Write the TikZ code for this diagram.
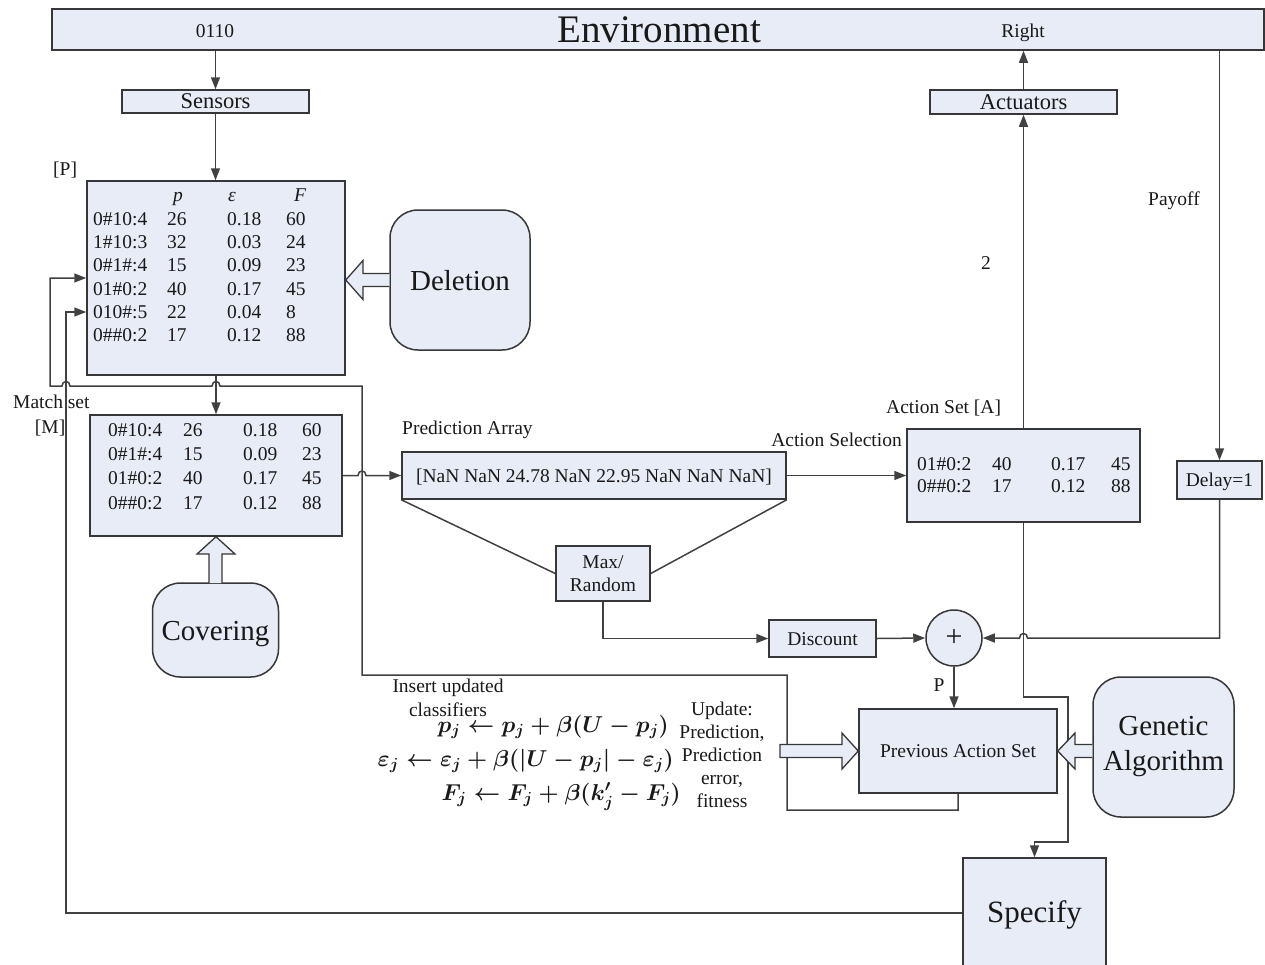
\RequirePackage{fix-cm}
\documentclass[tikz,border=0pt]{standalone}
\usepackage{fontspec}
\setmainfont{Liberation Serif}
\usetikzlibrary{arrows.meta,calc}

\definecolor{boxfill}{RGB}{231,236,247}
\definecolor{edge}{RGB}{55,55,55}
\definecolor{wirecol}{RGB}{65,65,65}
\definecolor{ink}{RGB}{25,25,25}

\tikzset{
  every node/.style={text=ink, inner sep=0pt},
  panel/.style={draw=edge, fill=boxfill, line width=1.5pt},
  softpanel/.style={panel, rounded corners=28pt},
  lbl/.style={font=\fontsize{19.5}{23.4}\selectfont},
  bigtxt/.style={font=\fontsize{29}{35}\selectfont},
  oneline/.style={text height=13pt, text depth=0pt},
  midline/.style={text height=15pt, text depth=1pt},
  bigline/.style={text height=20pt, text depth=0pt},
  eqn/.style={font=\fontsize{23}{28}\selectfont\boldmath, anchor=base east},
  wire/.style={draw=wirecol, line width=1.5pt},
  feed/.style={wire, -{Triangle[length=12pt,width=9pt]}},
  blockarrow/.style={draw=edge, fill=boxfill, line width=1.3pt, line join=miter},
}

\begin{document}
\begin{tikzpicture}[x=1pt, y=-1pt]
\useasboundingbox (0,0) rectangle (1265,964);

% ---------------- boxes ----------------
\node[panel, minimum width=1212pt, minimum height=41pt] (env) at (658,29.5) {};
\node[font=\fontsize{39}{40}\selectfont, anchor=base] (envtitle) at (659,42) {Environment};
\node[lbl, anchor=base] (obs) at (215,37) {0110};
\node[lbl, anchor=base] (act) at (1023,37) {Right};

\node[panel, minimum width=187pt, minimum height=23pt, midline,
      font=\fontsize{22.5}{24}\selectfont] (sens) at (215.5,101.5) {Sensors};
\node[panel, minimum width=187pt, minimum height=24pt, midline,
      font=\fontsize{22.5}{24}\selectfont] (actu) at (1023.5,102) {Actuators};

\node[panel, minimum width=258pt, minimum height=194pt] (pop) at (216,278) {};
\node[softpanel, bigtxt, bigline, minimum width=140pt, minimum height=140pt] (del) at (460,280) {Deletion};

\node[panel, minimum width=252pt, minimum height=121pt] (mset) at (216,475.5) {};
\node[softpanel, bigtxt, bigline, minimum width=126pt, minimum height=94pt] (cov) at (215.5,630) {Covering};

\node[panel, lbl, oneline, minimum width=384pt, minimum height=47pt] (pred) at (594,475.5)
  {[NaN NaN 24.78 NaN 22.95 NaN NaN NaN]};
\node[panel, lbl, align=center, minimum width=94pt, minimum height=55pt] (maxr) at (603,573.5)
  {Max/\\Random};
\node[panel, lbl, oneline, minimum width=107pt, minimum height=37pt] (disc) at (822.5,638.5) {Discount};
\node[panel, circle, minimum size=56pt, font=\fontsize{30}{30}\selectfont] (plus) at (954,638) {+};

\node[panel, minimum width=233pt, minimum height=93pt] (aset) at (1023.5,475.5) {};
\node[panel, lbl, oneline, minimum width=85pt, minimum height=38pt] (delay) at (1219.5,480) {Delay=1};

\node[panel, lbl, oneline, minimum width=198pt, minimum height=84pt] (prev) at (958,751) {Previous Action Set};
\node[softpanel, bigtxt, align=center, minimum width=141pt, minimum height=140pt] (ga) at (1163.5,747)
  {Genetic\\Algorithm};
\node[panel, font=\fontsize{31}{32}\selectfont, text height=20pt, text depth=2pt,
      minimum width=143pt, minimum height=110pt] (spec) at (1034.5,913) {Specify};

% ---------------- classifier tables ----------------
\node[font=\fontsize{19.5}{23.35}\selectfont, anchor=base west] (poptab) at (93,201.7) {%
  \begin{tabular}[t]{@{}p{74pt}@{}p{60pt}@{}p{59pt}@{}l@{}}
            & \hspace{6pt}\textit{p} & \hspace{1pt}\textit{ε} & \hspace{8pt}\textit{F}\\
   0\#10:4  & 26 & 0.18 & 60\\
   1\#10:3  & 32 & 0.03 & 24\\
   0\#1\#:4 & 15 & 0.09 & 23\\
   01\#0:2  & 40 & 0.17 & 45\\
   010\#:5  & 22 & 0.04 & 8\\
   0\#\#0:2 & 17 & 0.12 & 88
  \end{tabular}};

\node[font=\fontsize{19.5}{24.1}\selectfont, anchor=base west] (mtab) at (108,436.7) {%
  \begin{tabular}[t]{@{}p{75pt}@{}p{60pt}@{}p{59pt}@{}l@{}}
   0\#10:4  & 26 & 0.18 & 60\\
   0\#1\#:4 & 15 & 0.09 & 23\\
   01\#0:2  & 40 & 0.17 & 45\\
   0\#\#0:2 & 17 & 0.12 & 88
  \end{tabular}};

\node[font=\fontsize{19.5}{22.5}\selectfont, anchor=base west] (atab) at (917,470) {%
  \begin{tabular}[t]{@{}p{75pt}@{}p{59pt}@{}p{60pt}@{}l@{}}
   01\#0:2  & 40 & 0.17 & 45\\
   0\#\#0:2 & 17 & 0.12 & 88
  \end{tabular}};

% ---------------- labels ----------------
\node[lbl, anchor=base west] (plab) at (53,175) {[P]};
\node[lbl, anchor=base west] (mlab) at (13,408) {Match set};
\node[lbl, anchor=base east] (mlab2) at (65.5,433) {[M]};
\node[lbl, anchor=base west] (palab) at (402,434) {Prediction Array};
\node[lbl, anchor=base east] (aslab) at (902,446) {Action Selection};
\node[lbl, anchor=base west] (alab) at (886,413) {Action Set [A]};
\node[lbl] (two) at (986,263) {2};
\node[lbl, anchor=base west] (pay) at (1148,205) {Payoff};
\node[lbl] (plabel) at (939,685) {P};
\node[lbl, align=center, font=\fontsize{19.5}{24}\selectfont] (ins) at (448,698) {Insert updated\\classifiers};
\node[lbl, align=center, font=\fontsize{19.5}{23}\selectfont] (upd) at (722,754.5)
  {Update:\\Prediction,\\Prediction\\error,\\fitness};

\node[eqn] (f1) at (669,732)
  {$p_j \leftarrow p_j + \beta(U - p_j)$};
\node[eqn] (f2) at (674,766)
  {$\varepsilon_j \leftarrow \varepsilon_j + \beta\bigl(\bigl|U - p_j\bigr| - \varepsilon_j\bigr)$};
\node[eqn] (f3) at (681,800)
  {$F_j \leftarrow F_j + \beta\bigl(k'_j - F_j\bigr)$};

% ---------------- connectors ----------------
\draw[feed] (sens.north |- env.south) -- (sens.north);
\draw[feed] (sens.south) -- (sens.south |- pop.north);
\draw[feed] (pop.south) -- (mset.north);
\draw[feed] (actu.north) -- (actu.north |- env.south);
\draw[feed] (aset.north) -- (actu.south);
\draw[feed] (delay.north |- env.south) -- (delay.north);

% updated classifiers go back into the population
\draw[feed] (prev.south) |- (787,810) -- (787,675) -- (362,675) -- (362,386)
  -- (220,386) .. controls (220,380) and (212,380) .. (212,386)
  -- (70,386) .. controls (70,380) and (62,380) .. (62,386)
  -- (50,386) -- (50,278) -- (pop.west);

% specified classifiers go back into the population
\draw[feed] (spec.west) -- (66,913) -- (66,312) -- (pop.west |- 0,312);

\draw[feed] (mset.east) -- (358,475.5) .. controls (358,469.5) and (366,469.5) .. (366,475.5) -- (pred.west);
\draw[feed] (pred.east) -- (aset.west);
\draw[wire] (pred.south west) -- (maxr.west);
\draw[wire] (pred.south east) -- (maxr.east);
\draw[feed] (maxr.south) |- (disc.west);
\draw[feed] (disc.east) -- (plus.west);
\draw[feed] (delay.south) -- (1219.5,638) -- (1027.5,638)
  .. controls (1027.5,632) and (1019.5,632) .. (1019.5,638) -- (plus.east);
\draw[feed] (plus.south) -- (plus.south |- prev.north);
\draw[feed] (aset.south) -- (1023.5,697) -- (1068,697) -- (1068,842) -- (spec.north |- 0,842) -- (spec.north);

% ---------------- block arrows ----------------
\draw[blockarrow] (del.west |- 0,273.5) -- (363,273.5) -- (363,260.5) -- (pop.east |- 0,280)
  -- (363,299.5) -- (363,286.5) -- (del.west |- 0,286.5);
\draw[blockarrow] (209,583) -- (209,554) -- (197,554) -- (mset.south) -- (235,554) -- (222,554) -- (222,583);
\draw[blockarrow] (780,744.5) -- (842,744.5) -- (842,733) -- (prev.west) -- (842,769)
  -- (842,757.5) -- (780,757.5) -- cycle;
\draw[blockarrow] (ga.west |- 0,744.5) -- (1075,744.5) -- (1075,733) -- (prev.east) -- (1075,769)
  -- (1075,757.5) -- (ga.west |- 0,757.5);

\end{tikzpicture}
\end{document}
